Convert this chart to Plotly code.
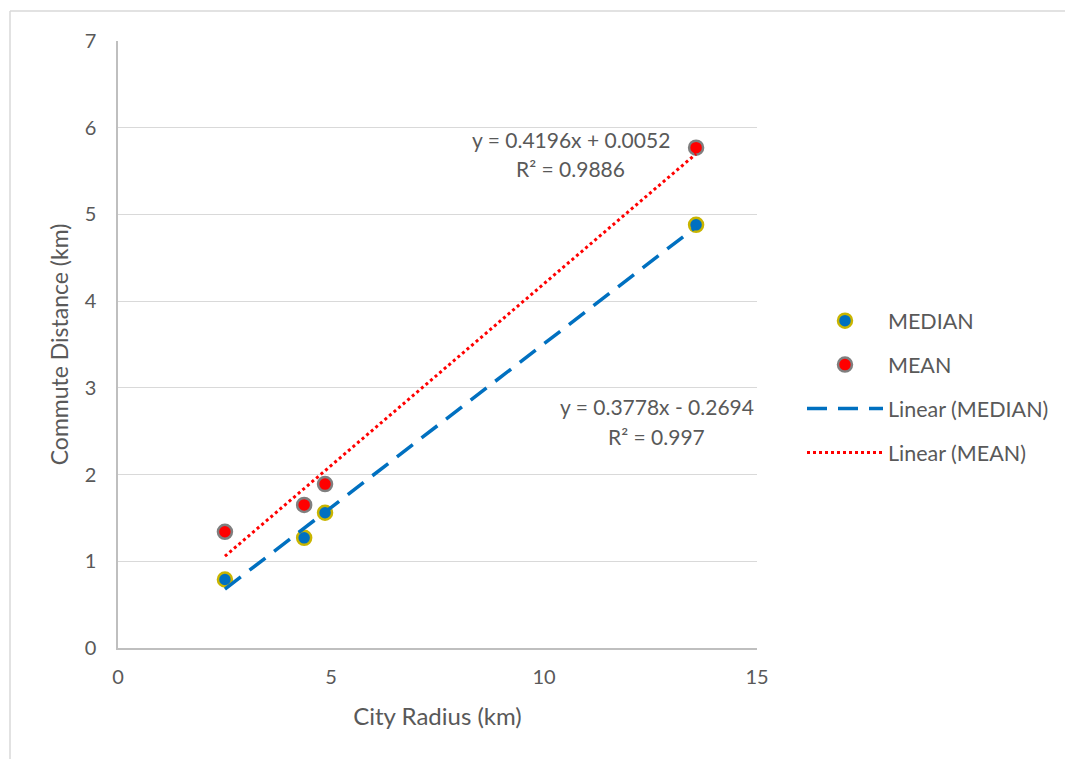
import plotly.graph_objects as go

# ---- data ----
city_radius = [2.51, 4.37, 4.86, 13.57]
median_commute = [0.79, 1.27, 1.56, 4.88]
mean_commute = [1.34, 1.65, 1.89, 5.77]

median_fit = {"slope": 0.3778, "intercept": -0.2694, "r2": "0.997"}
mean_fit = {"slope": 0.4196, "intercept": 0.0052, "r2": "0.9886"}

x_ticks = [0, 5, 10, 15]
y_ticks = [0, 1, 2, 3, 4, 5, 6, 7]

FONT = "Lato, 'Open Sans', sans-serif"
GREY = "#595959"

W, H = 1065, 759
ML, MR, MT, MB = 118, 308, 41, 111
PW, PH = W - ML - MR, H - MT - MB

xr = [min(city_radius), max(city_radius)]
med_line = [median_fit["slope"] * x + median_fit["intercept"] for x in xr]
mean_line = [mean_fit["slope"] * x + mean_fit["intercept"] for x in xr]

fig = go.Figure()

fig.add_trace(go.Scatter(
    x=city_radius, y=median_commute, mode="markers", name="MEDIAN",
    legendgroup="a",
    marker=dict(size=14, color="#0070C0", line=dict(color="#C9B500", width=2.5)),
))
fig.add_trace(go.Scatter(
    x=city_radius, y=mean_commute, mode="markers", name="MEAN",
    legendgroup="b",
    marker=dict(size=14, color="#FF0000", line=dict(color="#7F7F7F", width=2.5)),
))
fig.add_trace(go.Scatter(
    x=xr, y=med_line, mode="lines", name="Linear (MEDIAN)",
    legendgroup="c",
    line=dict(color="#0070C0", width=3.5, dash="20px,11px"),
))
fig.add_trace(go.Scatter(
    x=xr, y=mean_line, mode="lines", name="Linear (MEAN)",
    legendgroup="d",
    line=dict(color="#FF0000", width=3, dash="dot"),
))

def eq_text(fit):
    sign = "+" if fit["intercept"] >= 0 else "-"
    return f"y = {fit['slope']:.4f}x {sign} {abs(fit['intercept']):.4f}"

annos = []
for fit, xc, y1, y2 in [(mean_fit, 10.63, 5.86, 5.53), (median_fit, 12.65, 2.78, 2.44)]:
    annos.append(dict(x=xc, y=y1, xref="x", yref="y", text=eq_text(fit), showarrow=False,
                      font=dict(family=FONT, size=21, color=GREY), xanchor="center"))
    annos.append(dict(x=xc, y=y2, xref="x", yref="y", text=f"R² = {fit['r2']}", showarrow=False,
                      font=dict(family=FONT, size=21, color=GREY), xanchor="center"))

# outer chart border (top and left)
bx0 = (10 - ML) / PW
by0 = 1 + (MT - 11) / PH
shapes = [
    dict(type="line", xref="paper", yref="paper", x0=bx0, x1=(W - ML) / PW, y0=by0, y1=by0,
         line=dict(color="#D9D9D9", width=1.5)),
    dict(type="line", xref="paper", yref="paper", x0=bx0, x1=bx0, y0=by0, y1=-MB / PH,
         line=dict(color="#D9D9D9", width=1.5)),
]

fig.update_layout(
    width=W, height=H,
    margin=dict(l=ML, r=MR, t=MT, b=MB, autoexpand=False),
    paper_bgcolor="white", plot_bgcolor="white",
    font=dict(family=FONT, color=GREY, size=20),
    showlegend=True,
    legend=dict(
        x=1.0704, y=0.573, xanchor="left", yanchor="top",
        traceorder="grouped", tracegroupgap=13,
        font=dict(family=FONT, size=21.5, color=GREY),
        itemwidth=76,
    ),
    annotations=annos,
    shapes=shapes,
    xaxis=dict(
        range=[0, 15], tickvals=x_ticks, showgrid=False, zeroline=False,
        showline=True, linecolor="#BFBFBF", linewidth=1.5,
        ticks="", ticklabelstandoff=10,
        tickfont=dict(family=FONT, size=20, color=GREY),
        title=dict(text="City Radius (km)", standoff=21,
                   font=dict(family=FONT, size=24, color=GREY)),
    ),
    yaxis=dict(
        range=[0, 7], tickvals=y_ticks, showgrid=True, gridcolor="#D9D9D9", gridwidth=1.2,
        zeroline=False, showline=True, linecolor="#BFBFBF", linewidth=1.5,
        ticks="", ticklabelstandoff=16,
        tickfont=dict(family=FONT, size=20, color=GREY),
        title=dict(text="Commute Distance (km)", standoff=10,
                   font=dict(family=FONT, size=23, color=GREY)),
    ),
)

fig.write_html("out.html")
